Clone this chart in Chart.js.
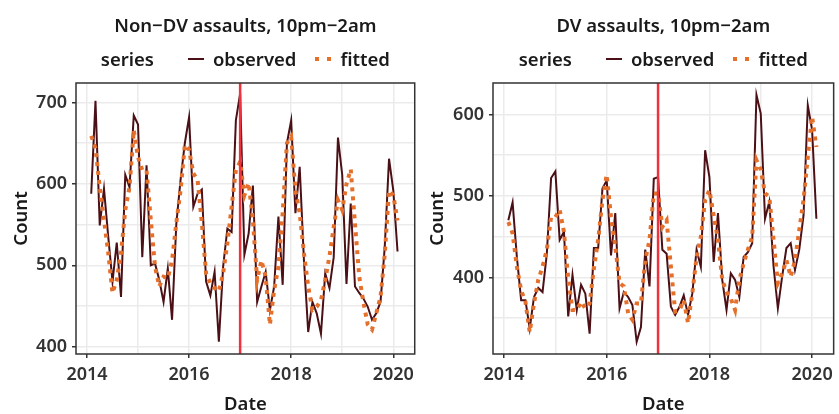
<!DOCTYPE html>
<html>
<head>
<meta charset="utf-8">
<script src="https://cdn.jsdelivr.net/npm/chart.js@4.4.1/dist/chart.umd.min.js"></script>
<style>
    body { margin: 0; background: #fff; font-family: 'Noto Sans', sans-serif; }
    #wrap { position: relative; width: 839px; height: 414px; }
    .panel { position: absolute; top: 0; height: 414px; }
    .head { position: absolute; top: 0; color: #1a1a1a; font-size: 18.5px; font-weight: 600; text-align: center; }
    .title { position: absolute; left: 0; right: 0; top: 12px; line-height: 26px; white-space: nowrap; }
    .legend { position: absolute; left: 0; right: 0; top: 44px; line-height: 26px; white-space: nowrap; }
    .legend span { display: inline-block; vertical-align: middle; }
    .legend .series { margin-right: 34px; }
    .legend .key { width: 16px; margin-right: 9px; }
    .legend .solid { height: 2px; background: #4a1016; }
    .legend .dotted { height: 4px; background: linear-gradient(to right, #e4702b 0 4px, transparent 4px 12px, #e4702b 12px 16px); }
    .legend .gap { margin-right: 19px; }
</style>
</head>
<body>
<div id="wrap">
    <div class="panel" style="left:0;width:420px">
        <canvas id="chartNonDv" width="420" height="414"></canvas>
        <div class="head" id="headNonDv">
            <div class="title">Non−DV assaults, 10pm−2am</div>
            <div class="legend"><span class="series">series</span><span class="key solid"></span><span class="gap">observed</span><span class="key dotted"></span><span>fitted</span></div>
        </div>
    </div>
    <div class="panel" style="left:420px;width:419px">
        <canvas id="chartDv" width="419" height="414"></canvas>
        <div class="head" id="headDv">
            <div class="title">DV assaults, 10pm−2am</div>
            <div class="legend"><span class="series">series</span><span class="key solid"></span><span class="gap">observed</span><span class="key dotted"></span><span>fitted</span></div>
        </div>
    </div>
</div>
<script>
// Monthly series, first point Feb 2014, last Feb 2020
const firstYear = 2014;
const firstMonth = 2;
const interventionYear = 2017;

const nonDvObserved = [588, 702, 549, 594, 535, 480, 528, 461, 611, 596, 684, 673, 510, 623, 500, 502, 482, 455, 496, 433,
    551, 605, 650, 682, 572, 588, 593, 480, 463, 492, 406, 498, 545, 541, 678, 711, 513, 539, 598, 455,
    474, 492, 445, 474, 560, 476, 650, 678, 564, 621, 506, 418, 455, 441, 416, 490, 472, 510, 657, 611,
    477, 576, 474, 466, 459, 449, 433, 441, 455, 523, 631, 592, 517];
const nonDvFitted = [659, 644, 596, 556, 515, 466, 482, 515, 568, 596, 666, 633, 617, 617, 556, 498, 474, 486, 484, 506,
    552, 592, 648, 642, 613, 605, 552, 490, 478, 472, 468, 490, 527, 572, 617, 627, 586, 601, 556, 482,
    506, 486, 427, 470, 498, 564, 650, 658, 592, 564, 515, 474, 445, 449, 457, 482, 511, 547, 580, 568,
    600, 618, 551, 486, 454, 427, 421, 441, 461, 514, 592, 586, 555];

const dvObserved = [470, 492, 425, 372, 372, 337, 376, 387, 382, 429, 522, 530, 446, 456, 352, 403, 360, 391, 380, 331,
    436, 436, 509, 519, 427, 479, 362, 382, 376, 366, 321, 339, 434, 389, 521, 523, 434, 429, 364, 354,
    364, 378, 354, 380, 434, 413, 556, 523, 419, 479, 397, 360, 405, 397, 376, 425, 431, 442, 624, 601,
    472, 493, 413, 362, 401, 436, 442, 409, 434, 476, 611, 581, 472];
const dvFitted = [468, 454, 413, 384, 370, 333, 368, 397, 413, 434, 474, 474, 483, 456, 399, 360, 360, 370, 362, 368,
    411, 446, 495, 526, 474, 438, 393, 389, 356, 348, 368, 368, 421, 446, 503, 503, 462, 470, 413, 358,
    360, 372, 344, 380, 425, 450, 495, 507, 476, 446, 397, 382, 374, 360, 397, 417, 434, 450, 544, 532,
    503, 499, 446, 393, 405, 421, 401, 421, 458, 495, 548, 597, 560];

const xMin = 2013.785, xMax = 2020.42;
const nonDvRange = [391, 724];
const dvRange = [306, 638.5];

const colObserved = '#4a1016';
const colFitted = '#e4702b';
const colIntervention = '#f0323c';
const colGrid = '#ebebeb';
const fontFamily = "'Noto Sans', sans-serif";

// decimal year for each month
function monthPositions(n) {
    const xs = [];
    for (let i = 0; i < n; i++) {
        const m = firstMonth - 1 + i;
        xs.push(firstYear + Math.floor(m / 12) + (m % 12) / 12);
    }
    return xs;
}

// dark border round the plot area (panel.border)
const panelBorder = {
    id: 'panelBorder',
    afterDatasetsDraw(chart) {
        const a = chart.chartArea;
        const ctx = chart.ctx;
        ctx.save();
        ctx.strokeStyle = '#333333';
        ctx.lineWidth = 1.5;
        ctx.strokeRect(a.left, a.top, a.right - a.left, a.bottom - a.top);
        ctx.restore();
    }
};

function crearPanel(canvasId, headId, observed, fitted, range, opts) {
    const xs = monthPositions(observed.length);
    const ctx = document.getElementById(canvasId).getContext('2d');

    const chart = new Chart(ctx, {
        type: 'line',
        data: {
            datasets: [
                {
                    label: 'intervention',
                    data: [{x: interventionYear, y: range[0] - 10}, {x: interventionYear, y: range[1] + 10}],
                    borderColor: colIntervention,
                    borderWidth: 2.5,
                    pointRadius: 0,
                    order: 0
                },
                {
                    label: 'fitted',
                    data: xs.map((x, i) => ({x: x, y: fitted[i]})),
                    borderColor: colFitted,
                    borderWidth: 4,
                    borderDash: [4, 5],
                    borderCapStyle: 'butt',
                    pointRadius: 0,
                    tension: 0,
                    order: 1
                },
                {
                    label: 'observed',
                    data: xs.map((x, i) => ({x: x, y: observed[i]})),
                    borderColor: colObserved,
                    borderWidth: 2,
                    pointRadius: 0,
                    tension: 0,
                    order: 2
                }
            ]
        },
        options: {
            responsive: false,
            animation: false,
            devicePixelRatio: 1,
            layout: { padding: { top: 83, right: opts.padRight, bottom: 0, left: 0 } },
            plugins: {
                legend: { display: false },
                tooltip: { enabled: false }
            },
            scales: {
                x: {
                    type: 'linear',
                    min: xMin,
                    max: xMax,
                    afterFit: (scale) => { scale.height = 60; },
                    border: { display: false },
                    grid: {
                        color: colGrid,
                        lineWidth: 1.5,
                        tickLength: 4,
                        tickColor: (c) => (c.tick && c.tick.value % 2 === 0) ? '#333333' : 'rgba(0,0,0,0)',
                        tickWidth: 1.5
                    },
                    ticks: {
                        stepSize: 1,
                        includeBounds: false,
                        autoSkip: false,
                        maxRotation: 0,
                        padding: 6,
                        color: '#333333',
                        font: { family: fontFamily, size: 18, weight: 600 },
                        callback: (v) => v % 2 === 0 ? String(v) : ''
                    },
                    title: {
                        display: true,
                        text: 'Date',
                        color: '#1a1a1a',
                        padding: 0,
                        font: { family: fontFamily, size: 18.5, weight: 600, lineHeight: 1 }
                    }
                },
                y: {
                    min: range[0],
                    max: range[1],
                    afterFit: (scale) => { scale.width = opts.axisWidth; },
                    border: { display: false },
                    grid: {
                        color: colGrid,
                        lineWidth: 1.5,
                        tickLength: 4,
                        tickColor: (c) => (c.tick && c.tick.value % 100 === 0) ? '#333333' : 'rgba(0,0,0,0)',
                        tickWidth: 1.5
                    },
                    ticks: {
                        stepSize: 50,
                        includeBounds: false,
                        padding: 5,
                        color: '#333333',
                        font: { family: fontFamily, size: 18, weight: 600 },
                        callback: (v) => v % 100 === 0 ? String(v) : ''
                    },
                    title: {
                        display: true,
                        text: 'Count',
                        color: '#1a1a1a',
                        padding: { top: opts.titlePad, bottom: 0 },
                        font: { family: fontFamily, size: 18.5, weight: 600, lineHeight: 1 }
                    }
                }
            }
        },
        plugins: [panelBorder]
    });

    // centre title and legend over the plot area
    const head = document.getElementById(headId);
    head.style.left = chart.chartArea.left + 'px';
    head.style.width = (chart.chartArea.right - chart.chartArea.left) + 'px';
    return chart;
}

document.fonts.ready.then(() => {
    crearPanel('chartNonDv', 'headNonDv', nonDvObserved, nonDvFitted, nonDvRange, { axisWidth: 76, padRight: 2, titlePad: 12 });
    crearPanel('chartDv', 'headDv', dvObserved, dvFitted, dvRange, { axisWidth: 73, padRight: 5, titlePad: 8 });
});
</script>
</body>
</html>
